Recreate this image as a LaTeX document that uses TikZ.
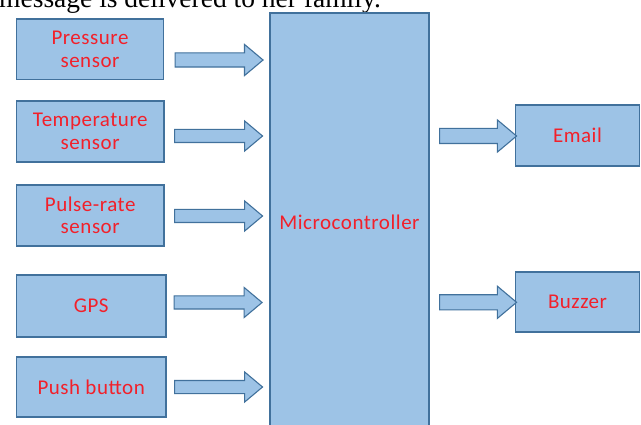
\documentclass[tikz,border=0pt]{standalone}
\usepackage{fontspec}
\setmainfont{Liberation Serif}
\newfontfamily\boxfont[LetterSpace=2.5]{Carlito}
\usetikzlibrary{shapes.arrows}
\definecolor{boxfill}{HTML}{9DC3E6}
\definecolor{boxline}{HTML}{41719C}
\definecolor{labred}{HTML}{F2202A}
\tikzset{
  blk/.style={draw=boxline, fill=boxfill, line width=1.3pt, inner sep=0pt,
    font=\boxfont\fontsize{21}{22.5}\selectfont, text=labred, align=center},
  barrow/.style={single arrow, draw=boxline, fill=boxfill, line width=1.1pt,
    inner xsep=0pt, inner ysep=6pt, text height=0pt, text depth=0pt,
    single arrow head extend=8.5pt, anchor=tail,
    single arrow tip angle=80, minimum height=88pt, single arrow head indent=0pt}
}
\begin{document}
\begin{tikzpicture}[x=1pt,y=-1pt]
\useasboundingbox (0,0) rectangle (641,425);
\clip (0,0) rectangle (641,425);
\fill[white] (0,0) rectangle (641,425);
\node[anchor=base east, inner sep=0pt, font=\fontsize{27.5}{30}\selectfont] (cap) at (381,8) {message is delivered to her family.};
% input boxes
\node[blk, minimum width=147pt, minimum height=60.5pt] (pr) at (90,49.3) {Pressure\\sensor};
\node[blk, minimum width=147.5pt, minimum height=61pt] (te) at (90.2,131.5) {Temperature\\sensor};
\node[blk, minimum width=147.5pt, minimum height=61pt] (pu) at (90.2,215.5) {Pulse-rate\\sensor};
\node[blk, minimum width=149.5pt, minimum height=62pt] (gp) at (91.2,306) {GPS};
\node[blk, minimum width=149.5pt, minimum height=60pt] (pb) at (91.2,387) {Push button};
% microcontroller
\node[blk, minimum width=159pt, minimum height=418pt] (mc) at (349.5,222) {Microcontroller};
% outputs
\node[blk, minimum width=123.5pt, minimum height=61pt] (em) at (577.5,135.5) {Email};
\node[blk, minimum width=123.5pt, minimum height=60pt] (bz) at (577.5,302) {Buzzer};
% block arrows
\node[barrow, inner ysep=6.5pt] (a1) at (174.5,60) {};
\node[barrow, inner ysep=6pt] (a2) at (174,136) {};
\node[barrow, inner ysep=6pt] (a3) at (174,216) {};
\node[barrow] (a4) at (173.5,302.5) {};
\node[barrow] (a5) at (174,387) {};
\node[barrow, minimum height=77pt, inner ysep=7pt] (a6) at (439,136) {};
\node[barrow, minimum height=77pt, inner ysep=7pt] (a7) at (439,302.3) {};
\end{tikzpicture}
\end{document}
